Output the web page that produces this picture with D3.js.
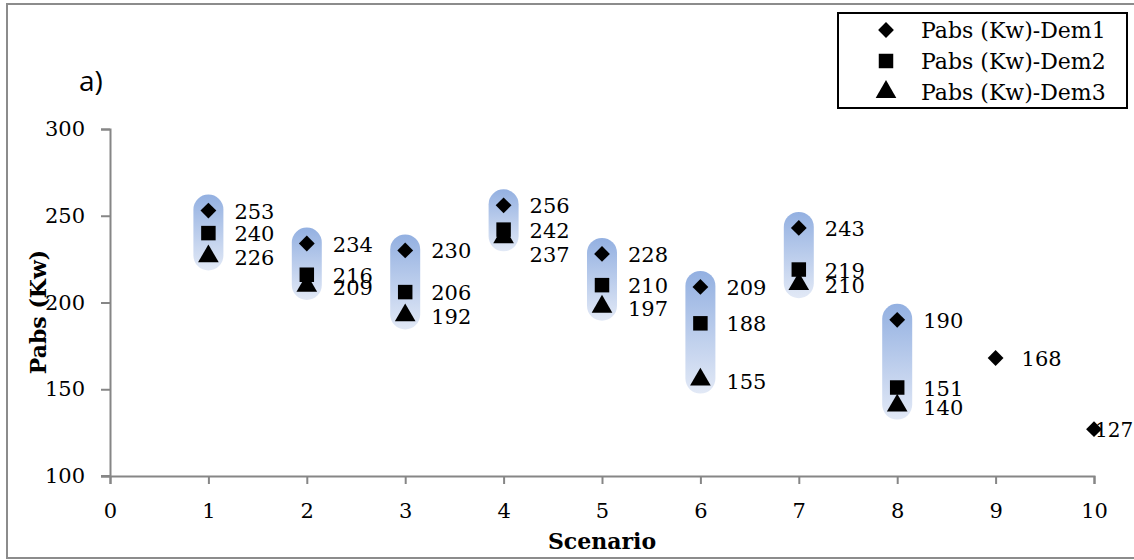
<!DOCTYPE html>
<html><head><meta charset="utf-8">
<script src="https://cdn.jsdelivr.net/npm/d3@7"></script>
<style>
html,body{margin:0;padding:0;background:#fff;}
svg{display:block;}
</style></head>
<body>
<svg id="chart" width="1134" height="560"></svg>
<script>
const scenarios = [1,2,3,4,5,6,7,8,9,10];
const dem1 = [253,234,230,256,228,209,243,190,168,127];
const dem2 = [240,216,206,242,210,188,219,151,null,null];
const dem3 = [226,209,192,237,197,155,210,140,null,null];
const seriesNames = ["Pabs (Kw)-Dem1","Pabs (Kw)-Dem2","Pabs (Kw)-Dem3"];
const yTicks = [100,150,200,250,300];
const xTicks = [0,1,2,3,4,5,6,7,8,9,10];

const svg = d3.select("#chart");
const serif = "'DejaVu Serif', serif";
const txt = "#000";
const axisCol = "#868686";
const fs = "21px";

// outer border
svg.append("rect").attr("x",7).attr("y",4).attr("width",1130).attr("height",554)
  .attr("fill","none").attr("stroke","#8c8c8c").attr("stroke-width",2);

const x = d3.scaleLinear().domain([0,10]).range([110,1094]);
const y = d3.scaleLinear().domain([100,300]).range([476,129]);

// gradient
const defs = svg.append("defs");
const grad = defs.append("linearGradient").attr("id","cap").attr("x1",0).attr("y1",0).attr("x2",0).attr("y2",1);
grad.append("stop").attr("offset","0%").attr("stop-color","#93b0e1");
grad.append("stop").attr("offset","100%").attr("stop-color","#e2e9f6");

// axes
const yAxis = svg.append("g").attr("transform","translate(110,0)")
  .call(d3.axisLeft(y).tickValues(yTicks).tickSize(9).tickPadding(16).tickFormat(d3.format("d")));
const xAxis = svg.append("g").attr("transform","translate(0,476)")
  .call(d3.axisBottom(x).tickValues(xTicks).tickSize(8).tickPadding(19).tickFormat(d3.format("d")));
[yAxis,xAxis].forEach(g=>{
  g.select(".domain").attr("stroke",axisCol).attr("stroke-width",2);
  g.selectAll(".tick line").attr("stroke",axisCol).attr("stroke-width",2);
  g.selectAll(".tick text").attr("fill",txt).style("font-family",serif).style("font-size",fs);
});
svg.append("line").attr("x1",101).attr("x2",110).attr("y1",y(100)).attr("y2",y(100)).attr("stroke",axisCol).attr("stroke-width",2);

// axis titles
svg.append("text").attr("x",602).attr("y",549).attr("text-anchor","middle")
  .style("font-family",serif).style("font-weight","bold").style("font-size","22px").attr("fill",txt).text("Scenario");
svg.append("text").attr("transform","translate(46,312) rotate(-90)").attr("text-anchor","middle")
  .style("font-family",serif).style("font-weight","bold").style("font-size","22px").attr("fill",txt).text("Pabs (Kw)");

// "a)"
svg.append("text").attr("x",79).attr("y",91).style("font-family","'Open Sans', 'Liberation Sans', sans-serif")
  .style("font-size","28px").attr("fill",txt).text("a)");

// capsules (high-low bars)
const rows = scenarios.map((s,i)=>({s, v:[dem1[i],dem2[i],dem3[i]].filter(v=>v!=null)}));
svg.append("g").selectAll("rect").data(rows.filter(r=>r.v.length>1)).join("rect")
  .attr("x",d=>x(d.s)-15).attr("width",30)
  .attr("y",d=>y(d3.max(d.v))-16)
  .attr("height",d=>y(d3.min(d.v))-y(d3.max(d.v))+29)
  .attr("rx",15).attr("ry",15).attr("fill","url(#cap)");

// markers
const symTypes = [d3.symbolSquare, d3.symbolSquare, d3.symbolTriangle];
const symSizes = [125, 210, 185];
const symRot = [45, 0, 0];
const series = [dem1,dem2,dem3];
series.forEach((arr,k)=>{
  const pts = scenarios.map((s,i)=>({s,v:arr[i],k})).filter(d=>d.v!=null);
  svg.append("g").selectAll("path").data(pts).join("path")
    .attr("d",d3.symbol().type(symTypes[k]).size(symSizes[k]))
    .attr("transform",d=>{
      let yy = y(d.v);
      if(k===2) yy -= 1;
      return `translate(${x(d.s)},${yy}) rotate(${symRot[k]})`;
    })
    .attr("fill","#000");
  svg.append("g").selectAll("text").data(pts).join("text")
    .attr("x",d=> d.s===10 ? x(d.s)+1 : x(d.s)+26)
    .attr("y",d=>{
      let yy = y(d.v)+8;
      if(k===2 && d.s===4) yy += 16;
      return yy;
    })
    .style("font-family",serif).style("font-size",d=> d.s===10 ? "20px" : fs).attr("fill",txt)
    .text(d=>d.v);
});

// legend
const lg = svg.append("g");
lg.append("rect").attr("x",838).attr("y",13).attr("width",289).attr("height",95)
  .attr("fill","#fff").attr("stroke","#000").attr("stroke-width",2);
seriesNames.forEach((n,k)=>{
  const yy = 30 + k*31;
  lg.append("path").attr("d",d3.symbol().type(symTypes[k]).size(symSizes[k])())
    .attr("transform",`translate(886,${yy}) rotate(${symRot[k]})`).attr("fill","#000");
  lg.append("text").attr("x",921).attr("y",yy+8).style("font-family",serif).style("font-size","22px")
    .attr("fill",txt).text(n);
});
</script>
</body></html>
